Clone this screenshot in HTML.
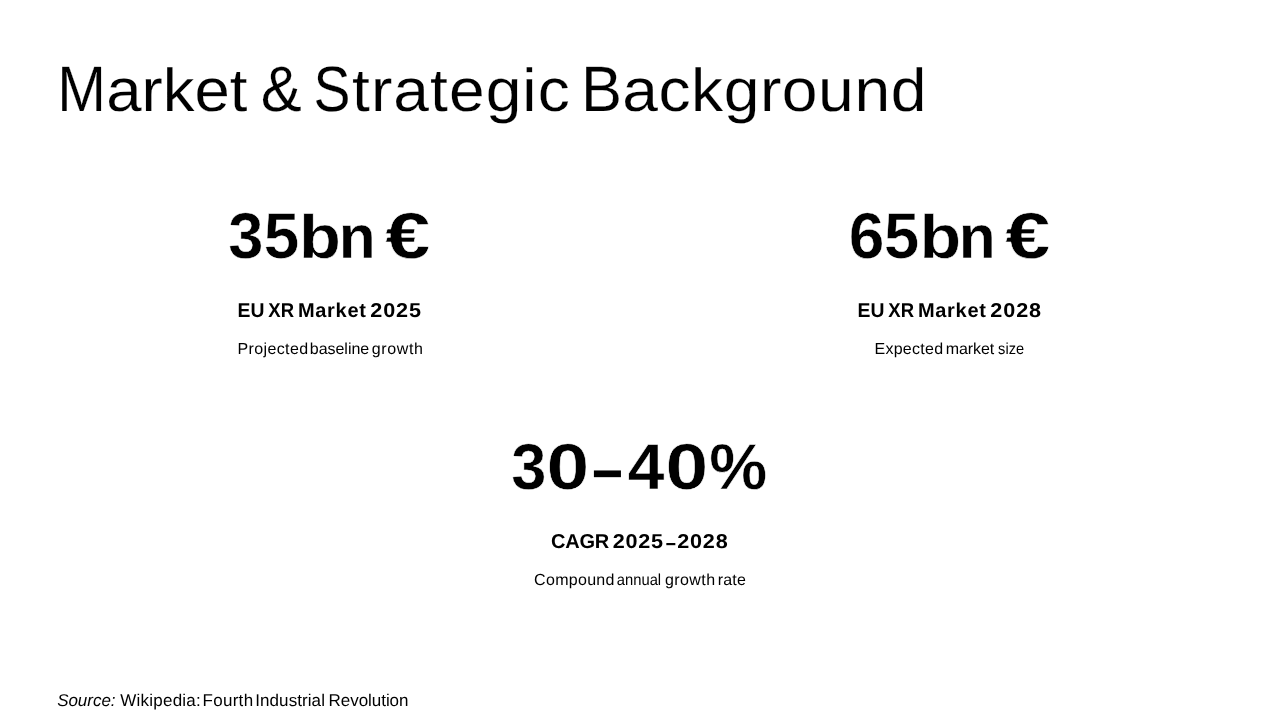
<!DOCTYPE html>
<html lang="en">
<head>
<meta charset="utf-8">
<title>Market &amp; Strategic Background</title>
<style>
/* Slide text is laid out word-by-word (and glyph-by-glyph for the big figures) so that
   Liberation Sans lands on the same ink boxes as the original typeface. */
html,body{margin:0;padding:0;background:#fff;}
body{width:1280px;height:720px;overflow:hidden;position:relative;font-family:"Liberation Sans",sans-serif;color:#000;text-rendering:geometricPrecision;}
#slide{position:absolute;left:0;top:0;width:1280px;height:720px;will-change:transform;}
h1,p{position:absolute;left:0;top:0;margin:0;padding:0;font-size:0;font-weight:normal;line-height:0;white-space:nowrap;}
span{display:inline-block;position:relative;width:0;vertical-align:top;white-space:nowrap;line-height:1;transform-origin:0 0;}
.b{font-weight:bold;}
.i{font-style:italic;}
</style>
</head>
<body>
<div id="slide">
<h1 class="title">
<span id="t1a" style="left:57px;top:56px;font-size:64.2px;transform:translate(0.15px,0.85px) scaleX(0.9099);-webkit-text-stroke:0.2px #fff;">M</span><span id="t1b" style="left:106px;top:59px;font-size:64.2px;transform:translate(0.18px,0.85px) scale(0.9902,0.9400);-webkit-text-stroke:0.2px #fff;">arket</span> <span id="t2" style="left:260px;top:56px;font-size:64.2px;transform:translate(0.76px,0.85px) scaleX(0.9573);-webkit-text-stroke:0.2px #fff;">&amp;</span> <span id="t3a" style="left:313px;top:56px;font-size:64.2px;transform:translate(0.53px,0.85px) scaleX(0.8633);-webkit-text-stroke:0.2px #fff;">S</span><span id="t3b" style="left:352px;top:59px;font-size:64.2px;letter-spacing:1.016px;transform:translate(0.12px,0.85px) scale(1.0000,0.9400);-webkit-text-stroke:0.2px #fff;">trategic</span> <span id="t4a" style="left:580px;top:56px;font-size:64.2px;transform:translate(0.97px,0.85px) scaleX(0.9581);-webkit-text-stroke:0.2px #fff;">B</span><span id="t4b" style="left:622px;top:59px;font-size:64.2px;letter-spacing:0.556px;transform:translate(0.13px,0.85px) scale(1.0000,0.9400);-webkit-text-stroke:0.2px #fff;">ackground</span>
</h1>
<p class="num">
<span id="n1g0" class="b" style="left:228px;top:203px;font-size:64.7px;transform:translate(0.37px,0.74px) scaleX(0.9778);-webkit-text-stroke:0.5px #fff;">3</span><span id="n1g1" class="b" style="left:263px;top:203px;font-size:64.7px;transform:translate(0.78px,0.74px) scaleX(0.9876);-webkit-text-stroke:0.5px #fff;">5</span><span id="n1g2" class="b" style="left:298px;top:206px;font-size:64.7px;transform:translate(0.91px,0.74px) scale(1.0605,0.9500);-webkit-text-stroke:0.5px #fff;">b</span><span id="n1g3" class="b" style="left:338px;top:206px;font-size:64.7px;transform:translate(0.83px,0.74px) scale(0.9349,0.9500);-webkit-text-stroke:0.5px #fff;">n</span> <span id="n1g4" class="b" style="left:385px;top:203px;font-size:64.7px;transform:translate(0.22px,0.74px) scaleX(1.2494);-webkit-text-stroke:0.5px #fff;">€</span>
</p>
<p class="lab">
<span id="l1a" class="b" style="left:237px;top:301px;font-size:20px;transform:translate(0.57px,0.07px) scaleX(0.9675);">EU</span> <span id="l1b" class="b" style="left:268px;top:301px;font-size:20px;transform:translate(0.37px,0.07px) scaleX(0.9253);">XR</span> <span id="l1c" class="b" style="left:297.93px;top:301.07px;font-size:20px;letter-spacing:0.696px;">Market</span> <span id="l1d" class="b" style="left:370px;top:301px;font-size:20px;letter-spacing:0.781px;transform:translate(0.37px,0.07px) scaleX(1.0800);">2025</span>
</p>
<p class="sub">
<span id="s1a" style="left:237.55px;top:342.46px;font-size:16px;letter-spacing:0.366px;">Projected</span> <span id="s1b" style="left:309.84px;top:342.46px;font-size:16px;letter-spacing:-0.038px;">baseline</span> <span id="s1c" style="left:371.79px;top:342.46px;font-size:16px;letter-spacing:0.633px;">growth</span>
</p>
<p class="num">
<span id="n2g0" class="b" style="left:848px;top:203px;font-size:64.7px;transform:translate(0.66px,0.74px) scaleX(0.9906);-webkit-text-stroke:0.5px #fff;">6</span><span id="n2g1" class="b" style="left:883px;top:203px;font-size:64.7px;transform:translate(1.00px,0.74px) scaleX(0.9783);-webkit-text-stroke:0.5px #fff;">5</span><span id="n2g2" class="b" style="left:919px;top:206px;font-size:64.7px;transform:translate(0.44px,0.74px) scale(1.0541,0.9500);-webkit-text-stroke:0.5px #fff;">b</span><span id="n2g3" class="b" style="left:958px;top:206px;font-size:64.7px;transform:translate(0.83px,0.74px) scale(0.9349,0.9500);-webkit-text-stroke:0.5px #fff;">n</span> <span id="n2g4" class="b" style="left:1005px;top:203px;font-size:64.7px;transform:translate(0.22px,0.74px) scaleX(1.2494);-webkit-text-stroke:0.5px #fff;">€</span>
</p>
<p class="lab">
<span id="l2a" class="b" style="left:857px;top:301px;font-size:20px;transform:translate(0.57px,0.07px) scaleX(0.9675);">EU</span> <span id="l2b" class="b" style="left:888px;top:301px;font-size:20px;transform:translate(0.37px,0.07px) scaleX(0.9253);">XR</span> <span id="l2c" class="b" style="left:917.93px;top:301.07px;font-size:20px;letter-spacing:0.696px;">Market</span> <span id="l2d" class="b" style="left:990px;top:301px;font-size:20px;letter-spacing:0.801px;transform:translate(0.37px,0.07px) scaleX(1.0800);">2028</span>
</p>
<p class="sub">
<span id="s2a" style="left:874.44px;top:342.46px;font-size:16px;letter-spacing:0.278px;">Expected</span> <span id="s2b" style="left:945.69px;top:342.46px;font-size:16px;letter-spacing:-0.072px;">market</span> <span id="s2c" style="left:998px;top:342px;font-size:16px;transform:translate(0.08px,0.46px) scaleX(0.9139);">size</span>
</p>
<p class="num">
<span id="n3g0" class="b" style="left:511px;top:434px;font-size:64.7px;transform:translate(0.37px,0.74px) scaleX(0.9778);-webkit-text-stroke:0.5px #fff;">3</span><span id="n3g1" class="b" style="left:546px;top:434px;font-size:64.7px;transform:translate(0.62px,0.74px) scaleX(1.1870);-webkit-text-stroke:0.5px #fff;">0</span><span id="n3g2" class="b" style="left:592px;top:431px;font-size:64px;transform:translate(0.20px,3.72px) scale(0.8533,1.0600);">–</span><span id="n3g3" class="b" style="left:627px;top:434px;font-size:64.7px;transform:translate(0.80px,0.74px) scaleX(1.0192);-webkit-text-stroke:0.5px #fff;">4</span><span id="n3g4" class="b" style="left:665px;top:434px;font-size:64.7px;transform:translate(0.62px,0.74px) scaleX(1.1870);-webkit-text-stroke:0.5px #fff;">0</span><span id="n3g5" class="b" style="left:709px;top:434px;font-size:64.7px;transform:translate(0.22px,0.74px) scaleX(1.0075);-webkit-text-stroke:0.5px #fff;">%</span>
</p>
<p class="lab">
<span id="l3a" class="b" style="left:551.10px;top:532.07px;font-size:20px;letter-spacing:-0.227px;">CAGR</span> <span id="l3b" class="b" style="left:612px;top:532px;font-size:20px;letter-spacing:0.660px;transform:translate(0.85px,0.07px) scaleX(1.0800);">2025</span><span id="l3c" class="b" style="left:665px;top:530px;font-size:20px;transform:translate(0.64px,2.37px) scale(0.9126,1.1000);">–</span><span id="l3d" class="b" style="left:677px;top:532px;font-size:20px;letter-spacing:0.767px;transform:translate(0.14px,0.07px) scaleX(1.0800);">2028</span>
</p>
<p class="sub">
<span id="s3a" style="left:534.09px;top:573.46px;font-size:16px;letter-spacing:0.297px;">Compound</span> <span id="s3b" style="left:616px;top:573px;font-size:16px;transform:translate(0.83px,0.46px) scaleX(0.9223);">annual</span> <span id="s3c" style="left:664.90px;top:573.46px;font-size:16px;letter-spacing:0.450px;">growth</span> <span id="s3d" style="left:717.71px;top:573.46px;font-size:16px;letter-spacing:0.180px;">rate</span>
</p>
<p class="src">
<span id="r1" class="i" style="left:57.13px;top:692.01px;font-size:17px;letter-spacing:-0.025px;">Source:</span> <span id="r2" style="left:120.33px;top:692.01px;font-size:17px;letter-spacing:0.222px;">Wikipedia:</span> <span id="r3" style="left:202.46px;top:692.01px;font-size:17px;letter-spacing:0.301px;">Fourth</span> <span id="r4" style="left:255.28px;top:692.01px;font-size:17px;letter-spacing:0.073px;">Industrial</span> <span id="r5" style="left:328.55px;top:692.01px;font-size:17px;letter-spacing:-0.043px;">Revolution</span>
</p>
</div>
</body>
</html>
